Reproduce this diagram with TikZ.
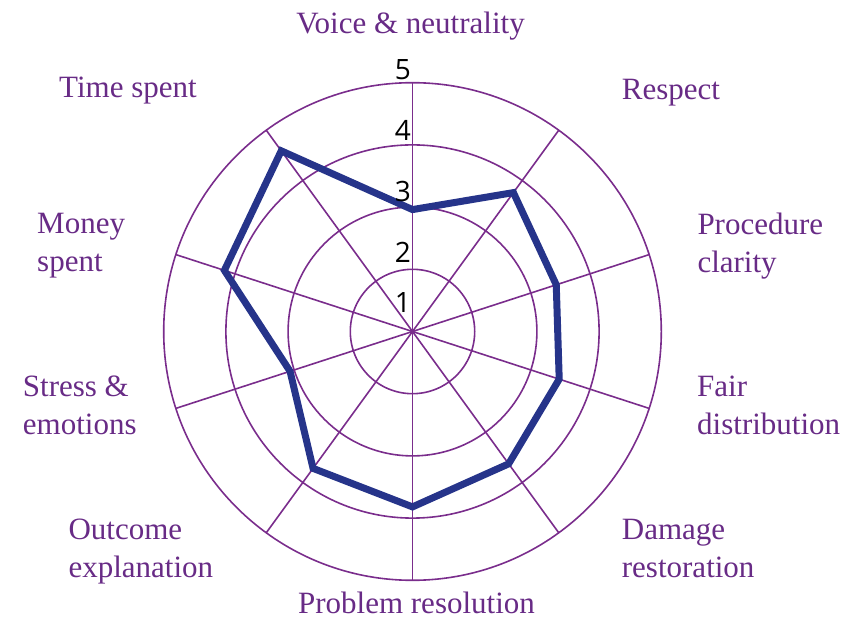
\documentclass[tikz,border=0pt]{standalone}
\usepackage{fontspec}
\setmainfont{Liberation Serif}
\newfontfamily\numfont{Open Sans}
\definecolor{labelpurple}{RGB}{104,43,134}
\definecolor{gridpurple}{RGB}{122,45,140}
\definecolor{scoreblue}{RGB}{38,52,138}
\tikzset{
    gridline/.style={draw=gridpurple, line width=1.6pt},
    scoreline/.style={draw=scoreblue, line width=7pt, line join=miter},
    axislabel/.style={text=labelpurple, font=\fontsize{31}{38}\selectfont, inner sep=0pt, align=left, anchor=base west},
    ticklabel/.style={font=\numfont\fontsize{28}{28}\selectfont, inner sep=0pt, anchor=base east},
}
\begin{document}
\begin{tikzpicture}[x=1pt,y=1pt]
    \useasboundingbox (0,0) rectangle (863,619);
    \coordinate (c) at (412.5,287.5);

    % rings and spokes
    \foreach \r in {1,...,4}
        \draw[gridline] (c) circle[radius={62.2*\r}];
    \foreach \a in {0,...,9}
        \draw[gridline] (c) -- ++({90-36*\a}:248.8);

    % scores
    \foreach \v [count=\i] in {2.96,3.76,3.43,3.48,3.63,3.82,3.72,3.07,4.18,4.59}
        \coordinate (p\i) at ([shift={({126-36*\i}:{62.2*(\v-1)})}]c);
    \draw[scoreline] (p1) -- (p2) -- (p3) -- (p4) -- (p5) -- (p6) -- (p7) -- (p8) -- (p9) -- (p10) -- cycle;

    % axis labels (two-line ones sit on their last baseline)
    \node[axislabel, anchor=base] (voice) at (410.5,585) {Voice \& neutrality};
    \node[axislabel] (respect) at (621.7,519.7) {Respect};
    \node[axislabel] (procedure) at (697.3,346.3) {Procedure\\clarity};
    \node[axislabel] (fair) at (697,184) {Fair\\distribution};
    \node[axislabel] (damage) at (621.7,41) {Damage\\restoration};
    \node[axislabel, anchor=base, text depth=0pt] (problem) at (416.5,5) {Problem resolution};
    \node[axislabel] (outcome) at (68.3,41) {Outcome\\explanation};
    \node[axislabel] (stress) at (22.7,184) {Stress \&\\emotions};
    \node[axislabel] (money) at (37,347) {Money\\spent};
    \node[axislabel] (time) at (59,521) {Time spent};

    % scale
    \node[ticklabel] (t5) at (411,539) {5};
    \node[ticklabel] (t4) at (411,478.3) {4};
    \node[ticklabel] (t3) at (411,417.3) {3};
    \node[ticklabel] (t2) at (411,356) {2};
    \node[ticklabel] (t1) at (411,306) {1};
\end{tikzpicture}
\end{document}
